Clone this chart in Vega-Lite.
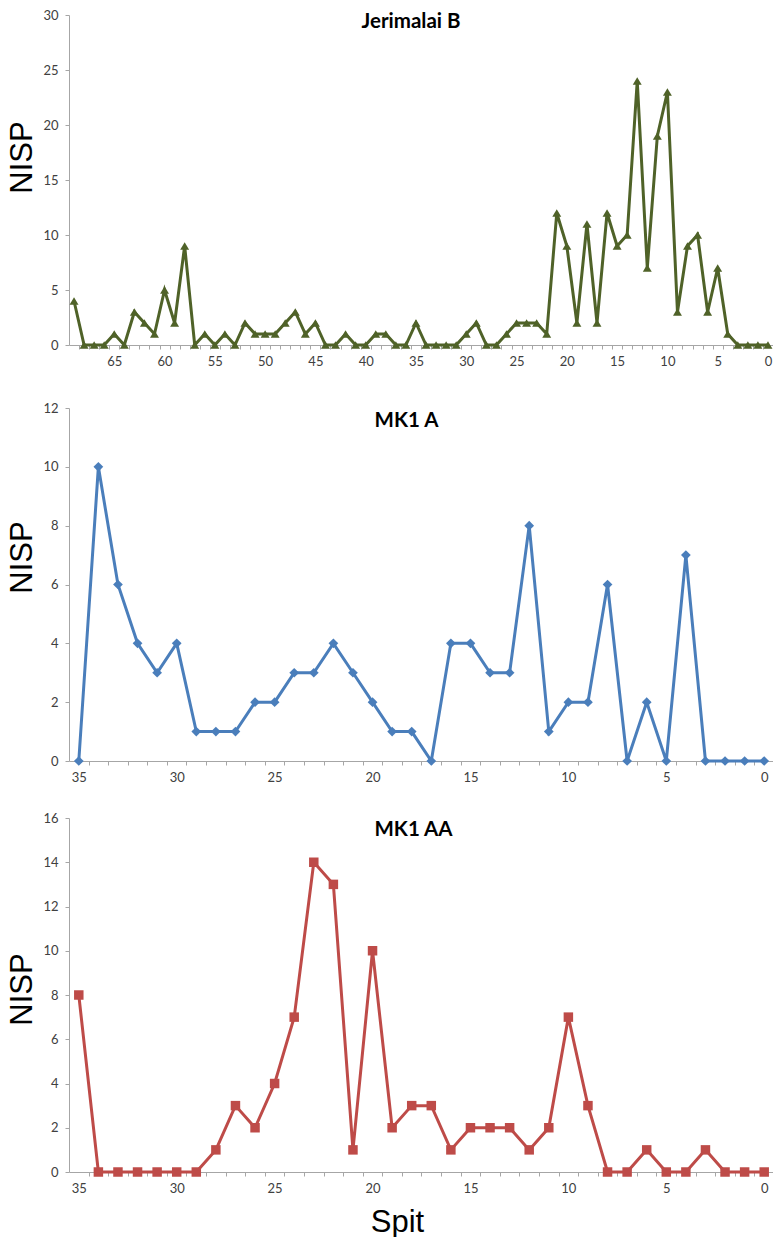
{
  "$schema": "https://vega.github.io/schema/vega-lite/v6.json",
  "padding": {"top": 9, "left": 6, "right": 0, "bottom": 0},
  "datasets": {
    "jb": [
      {"spit": 69, "nisp": 4}, {"spit": 68, "nisp": 0}, {"spit": 67, "nisp": 0}, {"spit": 66, "nisp": 0},
      {"spit": 65, "nisp": 1}, {"spit": 64, "nisp": 0}, {"spit": 63, "nisp": 3}, {"spit": 62, "nisp": 2},
      {"spit": 61, "nisp": 1}, {"spit": 60, "nisp": 5}, {"spit": 59, "nisp": 2}, {"spit": 58, "nisp": 9},
      {"spit": 57, "nisp": 0}, {"spit": 56, "nisp": 1}, {"spit": 55, "nisp": 0}, {"spit": 54, "nisp": 1},
      {"spit": 53, "nisp": 0}, {"spit": 52, "nisp": 2}, {"spit": 51, "nisp": 1}, {"spit": 50, "nisp": 1},
      {"spit": 49, "nisp": 1}, {"spit": 48, "nisp": 2}, {"spit": 47, "nisp": 3}, {"spit": 46, "nisp": 1},
      {"spit": 45, "nisp": 2}, {"spit": 44, "nisp": 0}, {"spit": 43, "nisp": 0}, {"spit": 42, "nisp": 1},
      {"spit": 41, "nisp": 0}, {"spit": 40, "nisp": 0}, {"spit": 39, "nisp": 1}, {"spit": 38, "nisp": 1},
      {"spit": 37, "nisp": 0}, {"spit": 36, "nisp": 0}, {"spit": 35, "nisp": 2}, {"spit": 34, "nisp": 0},
      {"spit": 33, "nisp": 0}, {"spit": 32, "nisp": 0}, {"spit": 31, "nisp": 0}, {"spit": 30, "nisp": 1},
      {"spit": 29, "nisp": 2}, {"spit": 28, "nisp": 0}, {"spit": 27, "nisp": 0}, {"spit": 26, "nisp": 1},
      {"spit": 25, "nisp": 2}, {"spit": 24, "nisp": 2}, {"spit": 23, "nisp": 2}, {"spit": 22, "nisp": 1},
      {"spit": 21, "nisp": 12}, {"spit": 20, "nisp": 9}, {"spit": 19, "nisp": 2}, {"spit": 18, "nisp": 11},
      {"spit": 17, "nisp": 2}, {"spit": 16, "nisp": 12}, {"spit": 15, "nisp": 9}, {"spit": 14, "nisp": 10},
      {"spit": 13, "nisp": 24}, {"spit": 12, "nisp": 7}, {"spit": 11, "nisp": 19}, {"spit": 10, "nisp": 23},
      {"spit": 9, "nisp": 3}, {"spit": 8, "nisp": 9}, {"spit": 7, "nisp": 10}, {"spit": 6, "nisp": 3},
      {"spit": 5, "nisp": 7}, {"spit": 4, "nisp": 1}, {"spit": 3, "nisp": 0}, {"spit": 2, "nisp": 0},
      {"spit": 1, "nisp": 0}, {"spit": 0, "nisp": 0}
    ],
    "mk1a": [
      {"spit": 35, "nisp": 0}, {"spit": 34, "nisp": 10}, {"spit": 33, "nisp": 6}, {"spit": 32, "nisp": 4},
      {"spit": 31, "nisp": 3}, {"spit": 30, "nisp": 4}, {"spit": 29, "nisp": 1}, {"spit": 28, "nisp": 1},
      {"spit": 27, "nisp": 1}, {"spit": 26, "nisp": 2}, {"spit": 25, "nisp": 2}, {"spit": 24, "nisp": 3},
      {"spit": 23, "nisp": 3}, {"spit": 22, "nisp": 4}, {"spit": 21, "nisp": 3}, {"spit": 20, "nisp": 2},
      {"spit": 19, "nisp": 1}, {"spit": 18, "nisp": 1}, {"spit": 17, "nisp": 0}, {"spit": 16, "nisp": 4},
      {"spit": 15, "nisp": 4}, {"spit": 14, "nisp": 3}, {"spit": 13, "nisp": 3}, {"spit": 12, "nisp": 8},
      {"spit": 11, "nisp": 1}, {"spit": 10, "nisp": 2}, {"spit": 9, "nisp": 2}, {"spit": 8, "nisp": 6},
      {"spit": 7, "nisp": 0}, {"spit": 6, "nisp": 2}, {"spit": 5, "nisp": 0}, {"spit": 4, "nisp": 7},
      {"spit": 3, "nisp": 0}, {"spit": 2, "nisp": 0}, {"spit": 1, "nisp": 0}, {"spit": 0, "nisp": 0}
    ],
    "mk1aa": [
      {"spit": 35, "nisp": 8}, {"spit": 34, "nisp": 0}, {"spit": 33, "nisp": 0}, {"spit": 32, "nisp": 0},
      {"spit": 31, "nisp": 0}, {"spit": 30, "nisp": 0}, {"spit": 29, "nisp": 0}, {"spit": 28, "nisp": 1},
      {"spit": 27, "nisp": 3}, {"spit": 26, "nisp": 2}, {"spit": 25, "nisp": 4}, {"spit": 24, "nisp": 7},
      {"spit": 23, "nisp": 14}, {"spit": 22, "nisp": 13}, {"spit": 21, "nisp": 1}, {"spit": 20, "nisp": 10},
      {"spit": 19, "nisp": 2}, {"spit": 18, "nisp": 3}, {"spit": 17, "nisp": 3}, {"spit": 16, "nisp": 1},
      {"spit": 15, "nisp": 2}, {"spit": 14, "nisp": 2}, {"spit": 13, "nisp": 2}, {"spit": 12, "nisp": 1},
      {"spit": 11, "nisp": 2}, {"spit": 10, "nisp": 7}, {"spit": 9, "nisp": 3}, {"spit": 8, "nisp": 0},
      {"spit": 7, "nisp": 0}, {"spit": 6, "nisp": 1}, {"spit": 5, "nisp": 0}, {"spit": 4, "nisp": 0},
      {"spit": 3, "nisp": 1}, {"spit": 2, "nisp": 0}, {"spit": 1, "nisp": 0}, {"spit": 0, "nisp": 0}
    ]
  },
  "config": {
    "view": {"stroke": null},
    "axis": {
      "grid": false,
      "domainColor": "#A6A6A6",
      "tickColor": "#A6A6A6",
      "tickSize": 4,
      "labelFont": "Lato",
      "labelFontSize": 13,
      "labelColor": "#404040",
      "labelOverlap": false,
      "labelFlush": false,
      "labelBound": false,
      "titleFont": "Liberation Sans",
      "titleFontSize": 31,
      "titleFontWeight": "normal",
      "titleColor": "#000000"
    },
    "axisX": {"labelPadding": 6},
    "axisY": {"labelPadding": 7, "titlePadding": 4},
    "title": {
      "font": "Lato",
      "fontSize": 20.5,
      "fontWeight": "bold",
      "color": "#000000",
      "anchor": "middle",
      "frame": "group",
      "baseline": "middle"
    }
  },
  "spacing": 28,
  "vconcat": [
    {
      "spacing": 34,
      "vconcat": [
        {
          "title": {"text": "Jerimalai B", "offset": -23, "dx": -10},
          "width": 704,
          "height": 330,
          "data": {"name": "jb"},
          "mark": {"type": "line", "color": "#4F6228", "strokeWidth": 3,
                   "point": {"shape": "triangle-up", "size": 80, "filled": true, "color": "#4F6228"}},
          "encoding": {
            "x": {"field": "spit", "type": "quantitative",
                  "scale": {"domain": [-0.5, 69.5], "reverse": true, "nice": false, "zero": false},
                  "axis": {"title": null,
                           "values": [0,1,2,3,4,5,6,7,8,9,10,11,12,13,14,15,16,17,18,19,20,21,22,23,24,25,26,27,28,29,30,31,32,33,34,35,36,37,38,39,40,41,42,43,44,45,46,47,48,49,50,51,52,53,54,55,56,57,58,59,60,61,62,63,64,65,66,67,68,69],
                           "tickOffset": 5.03, "labelOffset": -5.03,
                           "labelExpr": "datum.value % 5 === 0 ? datum.label : ''"}},
            "y": {"field": "nisp", "type": "quantitative",
                  "scale": {"domain": [0, 30], "nice": false},
                  "axis": {"values": [0, 5, 10, 15, 20, 25, 30], "title": "NISP", "titleY": 142}}
          }
        },
        {
          "title": {"text": "MK1 A", "offset": -29, "dx": -15},
          "width": 705,
          "height": 353,
          "data": {"name": "mk1a"},
          "mark": {"type": "line", "color": "#4A7EBB", "strokeWidth": 3,
                   "point": {"shape": "diamond", "size": 95, "filled": true, "color": "#4A7EBB"}},
          "encoding": {
            "x": {"field": "spit", "type": "quantitative",
                  "scale": {"domain": [-0.5, 35.5], "reverse": true, "nice": false, "zero": false},
                  "axis": {"title": null,
                           "values": [0,1,2,3,4,5,6,7,8,9,10,11,12,13,14,15,16,17,18,19,20,21,22,23,24,25,26,27,28,29,30,31,32,33,34,35],
                           "tickOffset": 9.79, "labelOffset": -9.79,
                           "labelExpr": "datum.value % 5 === 0 ? datum.label : ''"}},
            "y": {"field": "nisp", "type": "quantitative",
                  "scale": {"domain": [0, 12], "nice": false},
                  "axis": {"values": [0, 2, 4, 6, 8, 10, 12], "title": "NISP", "titleY": 149}}
          }
        }
      ]
    },
    {
      "title": {"text": "MK1 AA", "offset": -28, "dx": -8},
      "width": 705,
      "height": 354,
      "data": {"name": "mk1aa"},
      "mark": {"type": "line", "color": "#BE4B48", "strokeWidth": 3,
               "point": {"shape": "square", "size": 90, "filled": true, "color": "#BE4B48"}},
      "encoding": {
        "x": {"field": "spit", "type": "quantitative",
              "scale": {"domain": [-0.5, 35.5], "reverse": true, "nice": false, "zero": false},
              "axis": {"title": "Spit", "titleX": 328, "titlePadding": 12,
                       "values": [0,1,2,3,4,5,6,7,8,9,10,11,12,13,14,15,16,17,18,19,20,21,22,23,24,25,26,27,28,29,30,31,32,33,34,35],
                       "tickOffset": 9.79, "labelOffset": -9.79,
                       "labelExpr": "datum.value % 5 === 0 ? datum.label : ''"}},
        "y": {"field": "nisp", "type": "quantitative",
              "scale": {"domain": [0, 16], "nice": false},
              "axis": {"values": [0, 2, 4, 6, 8, 10, 12, 14, 16], "title": "NISP", "titleY": 171}}
      }
    }
  ]
}
